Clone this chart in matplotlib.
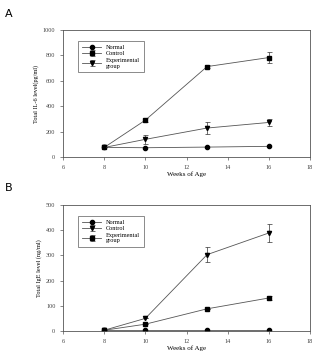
import matplotlib.pyplot as plt

weeks = [8, 10, 13, 16]

# Panel A - IL-6
il6_normal = [76, 73, 78, 84]
il6_control = [75, 290, 712, 783]
il6_control_err = [0, 15, 15, 45]
il6_exp = [75, 139, 228, 272]
il6_exp_err = [0, 37, 47, 30]

# Panel B - IgE
ige_normal = [2, 2, 2, 2]
ige_control = [3, 50, 303, 389]
ige_control_err = [0, 0, 30, 37]
ige_exp = [3, 27, 88, 131]
ige_exp_err = [0, 0, 0, 8]

plt.rcParams['font.family'] = ['Liberation Serif', 'DejaVu Serif']

fig = plt.figure(figsize=(3.17, 3.51), dpi=100)
W, H = 317, 351

axA = fig.add_axes([63 / W, 1 - 157 / H, 247 / W, 127 / H])
axB = fig.add_axes([63 / W, 1 - 331 / H, 247 / W, 126 / H])

line_kw = dict(color='#555555', lw=0.6, ms=3, mfc='black', mec='black',
               ecolor='#333333', elinewidth=0.5, capsize=1.8, capthick=0.5)

axA.errorbar(weeks, il6_normal, marker='o', label='Normal', **line_kw)
axA.errorbar(weeks, il6_control, yerr=il6_control_err, marker='s', label='Control', **line_kw)
axA.errorbar(weeks, il6_exp, yerr=il6_exp_err, marker='v', label='Experimental\ngroup', **line_kw)
axA.set_ylim(0, 1000)
axA.set_yticks(range(0, 1001, 200))
axA.set_ylabel('Total IL-6 level(pg/ml)', fontsize=4.5, labelpad=3)

axB.errorbar(weeks, ige_normal, marker='o', label='Normal', **line_kw)
axB.errorbar(weeks, ige_control, yerr=ige_control_err, marker='v', label='Control', **line_kw)
axB.errorbar(weeks, ige_exp, yerr=ige_exp_err, marker='s', label='Experimental\ngroup', **line_kw)
axB.set_ylim(0, 500)
axB.set_yticks(range(0, 501, 100))
axB.set_ylabel('Total IgE level (ng/ml)', fontsize=4.5, labelpad=3)

for ax in (axA, axB):
    ax.set_xlim(6, 18)
    ax.set_xticks(range(6, 19, 2))
    ax.set_xlabel('Weeks of Age', fontsize=5, labelpad=1.5)
    ax.tick_params(labelsize=4.5, length=2, width=0.5, color='#555555', labelcolor='#444444')
    for s in ax.spines.values():
        s.set_linewidth(0.6)
        s.set_color('#555555')
    leg = ax.legend(loc='upper left', bbox_to_anchor=(0.05, 0.94), fontsize=4.5,
                    frameon=True, fancybox=False, edgecolor='#555555',
                    handlelength=3, labelspacing=0.2, borderpad=0.6,
                    handletextpad=0.8)
    leg.get_frame().set_linewidth(0.6)

fig.text(5 / W, 1 - 14 / H, 'A', fontsize=8, family='DejaVu Sans', va='center')
fig.text(5 / W, 1 - 188 / H, 'B', fontsize=8, family='DejaVu Sans', va='center')

plt.savefig('out.png', dpi=100)
